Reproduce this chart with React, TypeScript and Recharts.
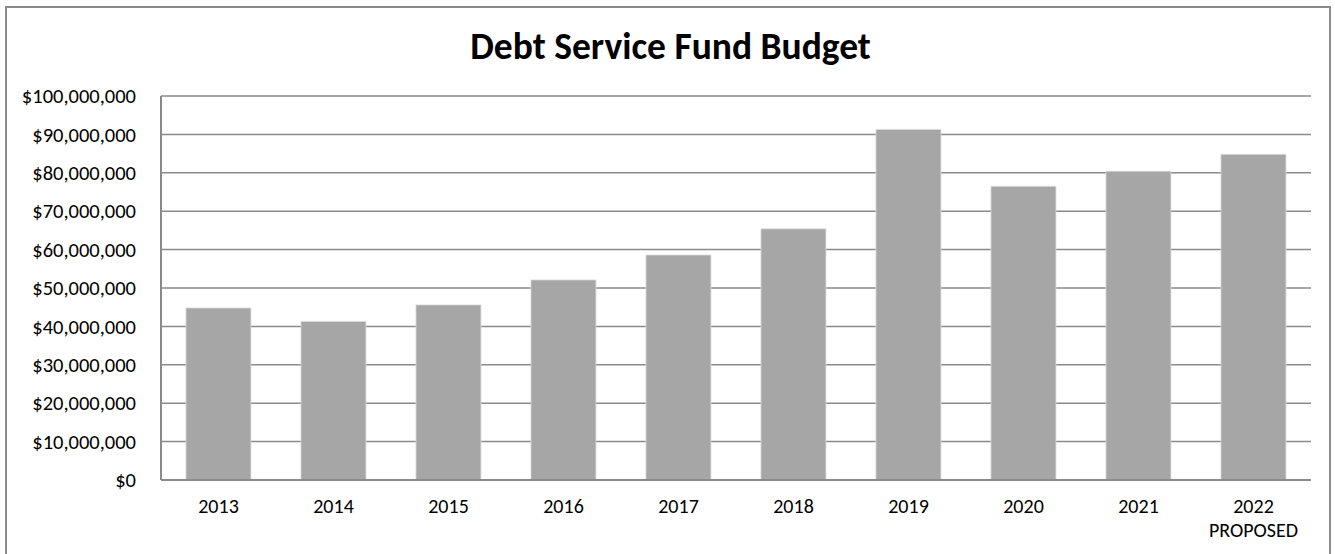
import { BarChart, Bar, XAxis, YAxis, CartesianGrid } from 'recharts';

// Debt Service Fund budget by fiscal year
const years = ['2013', '2014', '2015', '2016', '2017', '2018', '2019', '2020', '2021', '2022\nPROPOSED'];
const budget = [44800000, 41300000, 45600000, 52100000, 58600000, 65400000, 91300000, 76500000, 80400000, 84800000];
const yTicks = [0, 10000000, 20000000, 30000000, 40000000, 50000000, 60000000, 70000000, 80000000, 90000000, 100000000];

const data = years.map((year, i) => ({ year, budget: budget[i] }));

const FONT = 'Carlito, Calibri, Lato, sans-serif';
const GRAY = '#8a8a8a';

const fmtMoney = (v: number) => '$' + v.toLocaleString('en-US');

function YearTick(props: any) {
  const { x, y, payload } = props;
  const lines = String(payload.value).split('\n');
  return (
    <g>
      {lines.map((line: string, i: number) => (
        <text
          key={i}
          x={x}
          y={y + 33 + i * 24}
          textAnchor="middle"
          fill="#000"
          fontSize={20}
          fontFamily={FONT}
        >
          {line}
        </text>
      ))}
    </g>
  );
}

export default function App() {
  return (
    <div style={{ position: 'absolute', left: 0, top: 0, width: 1335, height: 554, overflow: 'hidden', background: '#fff' }}>
      {/* outer chart frame */}
      <div
        style={{
          position: 'absolute',
          left: 5,
          top: 6,
          width: 1326,
          height: 560,
          border: `2px solid ${GRAY}`,
          boxSizing: 'border-box',
        }}
      />
      <div
        style={{
          position: 'absolute',
          left: 3,
          top: 24,
          width: 1335,
          textAlign: 'center',
          fontFamily: FONT,
          fontWeight: 700,
          fontSize: 37.5,
          lineHeight: '44px',
          color: '#000',
        }}
      >
        Debt Service Fund Budget
      </div>
      <div style={{ position: 'absolute', left: 0, top: 0 }}>
        <BarChart
          width={1335}
          height={554}
          data={data}
          margin={{ top: 96, right: 24, bottom: 0, left: 0 }}
          barCategoryGap="21.7%"
        >
          <CartesianGrid vertical={false} stroke={GRAY} strokeWidth={1.5} />
          <XAxis
            dataKey="year"
            height={74}
            tickLine={false}
            tickSize={0}
            tickMargin={0}
            axisLine={{ stroke: GRAY, strokeWidth: 2 }}
            tick={<YearTick />}
            interval={0}
          />
          <YAxis
            width={161}
            domain={[0, 100000000]}
            ticks={yTicks}
            interval={0}
            tickLine={false}
            tickSize={0}
            tickMargin={25}
            axisLine={{ stroke: GRAY, strokeWidth: 2 }}
            tickFormatter={fmtMoney}
            tick={{ fill: '#000', fontSize: 20.5, fontFamily: FONT }}
          />
          <Bar dataKey="budget" fill="#a6a6a6" stroke="#dcdcdc" strokeWidth={0.8} isAnimationActive={false} />
        </BarChart>
      </div>
    </div>
  );
}
